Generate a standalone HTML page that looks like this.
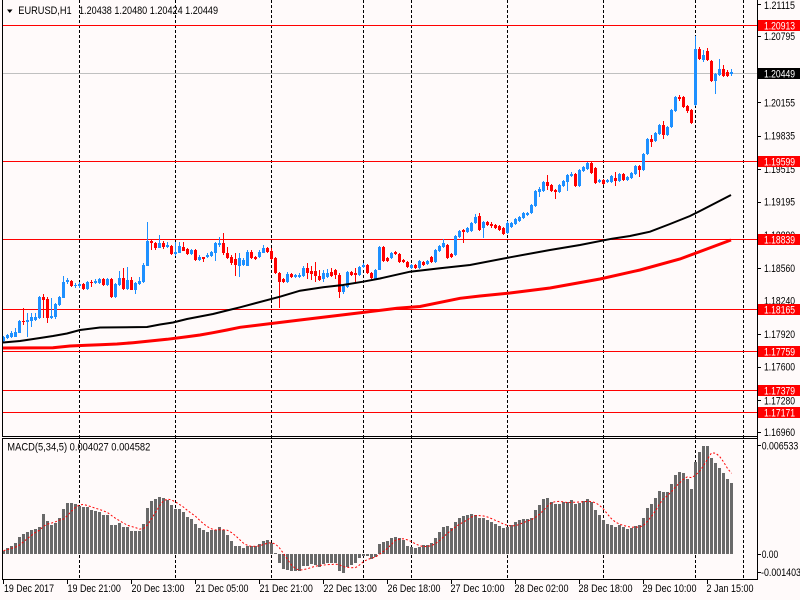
<!DOCTYPE html>
<html><head><meta charset="utf-8">
<style>
html,body{margin:0;padding:0;background:#fffafa;width:800px;height:600px;overflow:hidden;}
svg{display:block;}
text{font-family:"Liberation Sans",Arial,sans-serif;font-size:11px;fill:#000;}
.w{fill:#fff;}
</style></head><body>
<svg id="s" width="800" height="600" viewBox="0 0 800 600" xmlns="http://www.w3.org/2000/svg">
<rect width="800" height="600" fill="#fffafa"/>
<!-- period separators -->
<g stroke="#000" stroke-width="1" stroke-dasharray="3,2" shape-rendering="crispEdges">
<line x1="79.5" y1="0" x2="79.5" y2="579"/>
<line x1="175.5" y1="0" x2="175.5" y2="579"/>
<line x1="271.5" y1="0" x2="271.5" y2="579"/>
<line x1="363.5" y1="0" x2="363.5" y2="579"/>
<line x1="411.5" y1="0" x2="411.5" y2="579"/>
<line x1="507.5" y1="0" x2="507.5" y2="579"/>
<line x1="603.5" y1="0" x2="603.5" y2="579"/>
<line x1="695.5" y1="0" x2="695.5" y2="579"/>
<line x1="743.5" y1="0" x2="743.5" y2="579"/>
</g>
<!-- horizontal levels -->
<g stroke="#ff0000" stroke-width="1" shape-rendering="crispEdges">
<line x1="3" y1="25.5" x2="757" y2="25.5"/>
<line x1="3" y1="161.5" x2="757" y2="161.5"/>
<line x1="3" y1="239.5" x2="757" y2="239.5"/>
<line x1="3" y1="309.5" x2="757" y2="309.5"/>
<line x1="3" y1="351.5" x2="757" y2="351.5"/>
<line x1="3" y1="390.5" x2="757" y2="390.5"/>
<line x1="3" y1="412.5" x2="757" y2="412.5"/>
</g>
<line x1="3" y1="73.5" x2="757" y2="73.5" stroke="#c0c0c0" stroke-width="1" shape-rendering="crispEdges"/>
<!-- candles -->
<g shape-rendering="crispEdges">
<path id="wb" fill="none" stroke="#1e90ff" stroke-width="1"/>
<path id="wr" fill="none" stroke="#ff0000" stroke-width="1"/>
<path id="bb" fill="#1e90ff"/>
<path id="br" fill="#ff0000"/>
</g>
<!-- moving averages -->
<polyline fill="none" stroke="#ff0000" stroke-width="3" points="3,348 53,347.7 70,346 87,345.3 100,344.7 117,344 133,342.7 150,341 167,339.3 187,336.7 200,335 213,332.7 227,330 240,327.3 300,320 350,314 397,308.3 420,306.5 460,298.3 480,296 510,293 550,288 600,279 640,270 680,259 731,240"/>
<polyline fill="none" stroke="#000" stroke-width="2" points="3,342.5 20,341 40,338 53,336 67,333.5 80,330 100,327.5 147,327 160,324.5 173,322.5 187,319 200,316.5 213,314 227,310.5 240,307.3 280,296.7 300,290.7 323,287.3 343,285 363,281.7 380,278.5 410,271.7 440,268.3 470,265 510,257.3 550,250 580,245 612,238.7 630,236 650,231.7 670,224 690,216 700,211 731,195"/>
<!-- MACD -->
<path id="mh" fill="#696969" shape-rendering="crispEdges"/>
<polyline id="ms" fill="none" stroke="#ff0000" stroke-width="1" stroke-dasharray="2,2"/>
<!-- window borders -->
<g stroke="#000" stroke-width="1" shape-rendering="crispEdges">
<line x1="2.5" y1="0" x2="2.5" y2="437"/>
<line x1="2" y1="436.5" x2="758" y2="436.5"/>
<line x1="2.5" y1="438" x2="2.5" y2="580"/>
<line x1="2" y1="438.5" x2="758" y2="438.5"/>
<line x1="2" y1="579.5" x2="758" y2="579.5"/>
<line x1="757.5" y1="0" x2="757.5" y2="580"/>
<!-- price ticks -->
<line x1="757" y1="4.5" x2="761" y2="4.5"/>
<line x1="757" y1="36.5" x2="761" y2="36.5"/>
<line x1="757" y1="102.5" x2="761" y2="102.5"/>
<line x1="757" y1="136.5" x2="761" y2="136.5"/>
<line x1="757" y1="169.5" x2="761" y2="169.5"/>
<line x1="757" y1="202.5" x2="761" y2="202.5"/>
<line x1="757" y1="268.5" x2="761" y2="268.5"/>
<line x1="757" y1="334.5" x2="761" y2="334.5"/>
<line x1="757" y1="367.5" x2="761" y2="367.5"/>
<line x1="757" y1="400.5" x2="761" y2="400.5"/>
<line x1="757" y1="432.5" x2="761" y2="432.5"/>
<line x1="757" y1="445.5" x2="761" y2="445.5"/>
<line x1="757" y1="554.5" x2="761" y2="554.5"/>
<line x1="757" y1="572.5" x2="761" y2="572.5"/>
<!-- time ticks -->
<line x1="3.5" y1="579" x2="3.5" y2="584"/>
<line x1="67.5" y1="579" x2="67.5" y2="584"/>
<line x1="131.5" y1="579" x2="131.5" y2="584"/>
<line x1="195.5" y1="579" x2="195.5" y2="584"/>
<line x1="259.5" y1="579" x2="259.5" y2="584"/>
<line x1="323.5" y1="579" x2="323.5" y2="584"/>
<line x1="387.5" y1="579" x2="387.5" y2="584"/>
<line x1="451.5" y1="579" x2="451.5" y2="584"/>
<line x1="515.5" y1="579" x2="515.5" y2="584"/>
<line x1="579.5" y1="579" x2="579.5" y2="584"/>
<line x1="643.5" y1="579" x2="643.5" y2="584"/>
<line x1="707.5" y1="579" x2="707.5" y2="584"/>
</g>
<!-- title -->
<polygon points="7,9.5 12.5,9.5 9.75,13" fill="#000"/>
<text x="18.3" y="14" textLength="53.4" lengthAdjust="spacingAndGlyphs">EURUSD,H1</text>
<text x="79" y="14" textLength="139" lengthAdjust="spacingAndGlyphs">1.20438 1.20480 1.20424 1.20449</text>
<text x="7.3" y="450.7" textLength="143" lengthAdjust="spacingAndGlyphs">MACD(5,34,5) 0.004027 0.004582</text>
<!-- price labels -->
<g>
<text x="764" y="9.2" textLength="31" lengthAdjust="spacingAndGlyphs">1.21115</text>
<text x="764" y="39.8" textLength="31" lengthAdjust="spacingAndGlyphs">1.20795</text>
<text x="764" y="106.4" textLength="31" lengthAdjust="spacingAndGlyphs">1.20155</text>
<text x="764" y="139.7" textLength="31" lengthAdjust="spacingAndGlyphs">1.19835</text>
<text x="764" y="173" textLength="31" lengthAdjust="spacingAndGlyphs">1.19515</text>
<text x="764" y="205.7" textLength="31" lengthAdjust="spacingAndGlyphs">1.19195</text>
<text x="764" y="239" textLength="31" lengthAdjust="spacingAndGlyphs">1.18880</text>
<text x="764" y="272" textLength="31" lengthAdjust="spacingAndGlyphs">1.18560</text>
<text x="764" y="304.7" textLength="31" lengthAdjust="spacingAndGlyphs">1.18240</text>
<text x="764" y="338" textLength="31" lengthAdjust="spacingAndGlyphs">1.17920</text>
<text x="764" y="370.7" textLength="31" lengthAdjust="spacingAndGlyphs">1.17600</text>
<text x="764" y="404.3" textLength="31" lengthAdjust="spacingAndGlyphs">1.17280</text>
<text x="764" y="436" textLength="31" lengthAdjust="spacingAndGlyphs">1.16960</text>
<text x="761.7" y="449.3" textLength="36.5" lengthAdjust="spacingAndGlyphs">0.006533</text>
<text x="761.7" y="558" textLength="16.5" lengthAdjust="spacingAndGlyphs">0.00</text>
<text x="761" y="576" textLength="40" lengthAdjust="spacingAndGlyphs">-0.001403</text>
</g>
<!-- label boxes -->
<g shape-rendering="crispEdges">
<rect x="758" y="20" width="42" height="11" fill="#ff0000"/>
<rect x="758" y="68" width="42" height="11" fill="#000"/>
<rect x="758" y="156" width="42" height="11" fill="#ff0000"/>
<rect x="758" y="234" width="42" height="11" fill="#ff0000"/>
<rect x="758" y="304" width="42" height="11" fill="#ff0000"/>
<rect x="758" y="346" width="42" height="11" fill="#ff0000"/>
<rect x="758" y="385" width="42" height="11" fill="#ff0000"/>
<rect x="758" y="407" width="42" height="11" fill="#ff0000"/>
</g>
<g class="w">
<text class="w" x="764" y="29.3" textLength="31" lengthAdjust="spacingAndGlyphs">1.20913</text>
<text class="w" x="764" y="77.3" textLength="31" lengthAdjust="spacingAndGlyphs">1.20449</text>
<text class="w" x="764" y="165.3" textLength="31" lengthAdjust="spacingAndGlyphs">1.19599</text>
<text class="w" x="764" y="243.3" textLength="31" lengthAdjust="spacingAndGlyphs">1.18839</text>
<text class="w" x="764" y="313.3" textLength="31" lengthAdjust="spacingAndGlyphs">1.18165</text>
<text class="w" x="764" y="355.3" textLength="31" lengthAdjust="spacingAndGlyphs">1.17759</text>
<text class="w" x="764" y="394.3" textLength="31" lengthAdjust="spacingAndGlyphs">1.17379</text>
<text class="w" x="764" y="416.3" textLength="31" lengthAdjust="spacingAndGlyphs">1.17171</text>
</g>
<!-- time labels -->
<g>
<text x="4" y="592" textLength="50" lengthAdjust="spacingAndGlyphs">19 Dec 2017</text>
<text x="67.5" y="592" textLength="53.3" lengthAdjust="spacingAndGlyphs">19 Dec 21:00</text>
<text x="131.5" y="592" textLength="53" lengthAdjust="spacingAndGlyphs">20 Dec 13:00</text>
<text x="195.5" y="592" textLength="53" lengthAdjust="spacingAndGlyphs">21 Dec 05:00</text>
<text x="259.5" y="592" textLength="53.3" lengthAdjust="spacingAndGlyphs">21 Dec 21:00</text>
<text x="323.5" y="592" textLength="53.3" lengthAdjust="spacingAndGlyphs">22 Dec 13:00</text>
<text x="387.5" y="592" textLength="53" lengthAdjust="spacingAndGlyphs">26 Dec 18:00</text>
<text x="450.5" y="592" textLength="54" lengthAdjust="spacingAndGlyphs">27 Dec 10:00</text>
<text x="514.5" y="592" textLength="54" lengthAdjust="spacingAndGlyphs">28 Dec 02:00</text>
<text x="578.5" y="592" textLength="54" lengthAdjust="spacingAndGlyphs">28 Dec 18:00</text>
<text x="642.5" y="592" textLength="54" lengthAdjust="spacingAndGlyphs">29 Dec 10:00</text>
<text x="706.5" y="592" textLength="47" lengthAdjust="spacingAndGlyphs">2 Jan 15:00</text>
</g>
</svg>
<script>
(function(){
var D="b337,341,336,342|b335,338,334,339|b333,337,331,338|b332,337,328,337|b321,333,320,333|r321,322,308,325|b320,322,313,337|b317,321,313,327|b317,320,313,321|b297,318,296,319|r297,300,294,318|r299,318,297,323|b316,318,298,319|b304,317,303,319|b297,305,296,306|b282,298,276,298|b280,282,278,284|r281,286,280,287|b285,286,283,288|b284,286,282,288|r284,289,283,290|b282,289,281,290|r282,283,280,287|b281,283,279,284|b279,283,278,284|r279,285,278,286|b279,285,278,286|r279,297,278,298|b284,297,283,298|b278,285,271,286|r278,289,268,290|b280,289,267,290|r280,290,277,290|b283,290,282,294|b281,284,277,285|b265,282,263,283|b241,266,222,266|r241,243,240,250|r243,248,242,250|b243,248,235,248|r243,247,241,249|b245,247,242,248|r246,254,245,255|b252,254,242,256|b246,253,242,253|r247,251,242,251|r249,254,248,255|b250,254,249,255|r250,260,249,261|b257,260,255,261|r257,259,257,262|b255,257,253,258|b252,256,251,257|b243,253,242,261|b243,245,237,247|r243,253,233,255|r253,258,247,259|r257,263,255,265|r259,265,253,276|b258,266,253,277|b260,265,258,266|b252,266,250,266|r252,258,250,259|r257,259,256,260|b252,257,250,258|b248,253,245,253|r248,252,247,253|r251,259,248,260|r258,273,257,274|r273,282,272,308|r279,282,278,283|b274,282,272,283|r274,277,273,278|b275,277,274,278|b275,277,273,278|b268,276,266,277|r268,273,263,279|r271,274,266,280|r271,276,262,282|r276,280,270,281|b273,279,270,282|b273,277,269,278|r272,276,268,277|r270,275,269,279|r275,292,273,298|b286,292,285,294|b272,287,271,288|r272,275,271,276|r273,275,268,282|b267,275,266,276|b265,267,263,268|r265,273,264,274|r273,278,272,279|b270,279,269,280|b247,270,246,270|r247,261,246,262|r258,261,257,262|b253,258,252,259|r252,254,251,255|r254,262,253,263|r260,262,259,263|r262,267,261,268|b265,268,264,269|r265,268,264,269|b261,268,260,269|r262,265,261,266|b261,264,260,265|r257,262,256,263|b250,262,249,263|b246,251,245,252|b243,247,239,248|r245,258,244,259|r254,257,253,258|b236,255,235,256|b231,237,230,238|r230,232,229,243|b228,232,227,233|b223,231,222,232|b217,223,214,224|r216,230,213,231|b222,228,221,238|r222,225,221,226|r224,226,222,228|r225,228,224,229|r226,230,225,231|r228,234,227,235|b223,233,221,234|b223,227,222,228|b219,224,218,225|b217,221,216,222|b213,218,212,219|b213,215,212,216|b205,213,204,214|b191,206,190,207|b189,192,187,197|b182,191,181,192|r182,186,175,190|r185,191,184,192|r190,192,189,199|b185,192,184,193|b181,186,180,187|b175,182,174,191|b174,176,172,177|r174,186,173,187|b170,186,169,187|b167,171,166,172|b163,169,162,170|r163,173,162,174|r168,183,167,184|b180,182,179,183|r180,184,179,185|b180,182,179,183|b176,182,175,183|r178,181,172,186|b174,181,173,182|r174,180,173,181|b177,180,176,181|b173,178,172,179|b166,174,165,175|r166,170,165,177|b154,170,153,171|b139,154,138,155|r139,142,135,147|b133,141,132,142|b125,134,124,135|r125,135,121,139|b127,135,126,136|b110,127,109,128|b97,111,96,112|r97,99,95,101|r97,107,96,108|r106,111,105,113|r110,123,109,124|b49,105,36,106|r49,59,47,60|b55,60,50,62|r51,60,48,61|r61,81,60,82|b74,81,73,94|b69,75,59,76|r69,76,65,77|r72,76,70,77|b72,74,69,76";
var a=D.split("|"),pb="",pr="",wb="",wr="";
for(var i=0;i<a.length;i++){
var t=a[i].charAt(0),v=a[i].substr(1).split(",").map(Number);
var cx=3+4*i,h=Math.max(1,v[1]-v[0]);
var body="M"+(cx-1)+","+v[0]+"h3v"+h+"h-3z";
var wick="M"+(cx+0.5)+","+v[2]+"V"+Math.max(v[3],v[2]+1);
if(t=="b"){pb+=body;wb+=wick;}else{pr+=body;wr+=wick;}
}
document.getElementById("bb").setAttribute("d",pb);
document.getElementById("br").setAttribute("d",pr);
document.getElementById("wb").setAttribute("d",wb);
document.getElementById("wr").setAttribute("d",wr);
var M=[550.7,548.3,546,543.3,537.3,534,531.7,530,529,526.7,
514,520.7,525,522.7,518.3,509,502.7,502.7,504,506,
507.3,507.3,510,510.7,511.7,515,515,525,525,523.3,
526.7,526.7,530.7,530.7,530.7,524,508.3,500.7,499,497.3,
498.3,500,505,509.3,509.3,511.7,517.3,519.3,524,528.3,
530,531.7,530,530,526.7,530,535,540.7,546,546,
548.3,546,545.7,545.7,544,540.7,540,543.3,552.7,562.7,
569,570,570.7,570.7,570.7,565.7,565.7,564,565,566.7,
564,563.3,563.3,563.3,570.7,572.7,566.7,565,562.7,557.7,
556,556,558.7,556.7,544,541.7,540.7,538.3,536.7,538.3,
540,546,547,548,547,545,545,543,538,532,
527,526,528,522,518,516,515,514,515,518,
518,520,522,524,526,528,527,525,522,520,
519,519,518.3,510,505,499,498.3,501.7,504,504,
501.7,501.7,500,504,502.7,500.7,499,501.7,510,515,
520,524,525,526.7,525,526.7,529.3,528.3,526,525,
518.3,508.3,504,498.3,491,492.3,492.3,484,475,471.7,
473.3,479.3,489.3,462.3,452.3,445.7,445.7,458.3,463.3,468.3,
473.3,479,482.7];
var Z=554,ph="",pts=[];
for(var j=0;j<M.length;j++){
var y=Math.round(M[j]),x=2+4*j;
if(y<Z){ph+="M"+x+","+y+"h3V"+Z+"h-3z";}
else if(y>Z){ph+="M"+x+","+Z+"h3V"+y+"h-3z";}
var s=0,n=0;for(var k=Math.max(0,j-4);k<=j;k++){s+=M[k];n++;}
pts.push((3.5+4*j)+","+(s/n).toFixed(1));
}
document.getElementById("mh").setAttribute("d",ph);
document.getElementById("ms").setAttribute("points",pts.join(" "));
})();
</script>
</body></html>
